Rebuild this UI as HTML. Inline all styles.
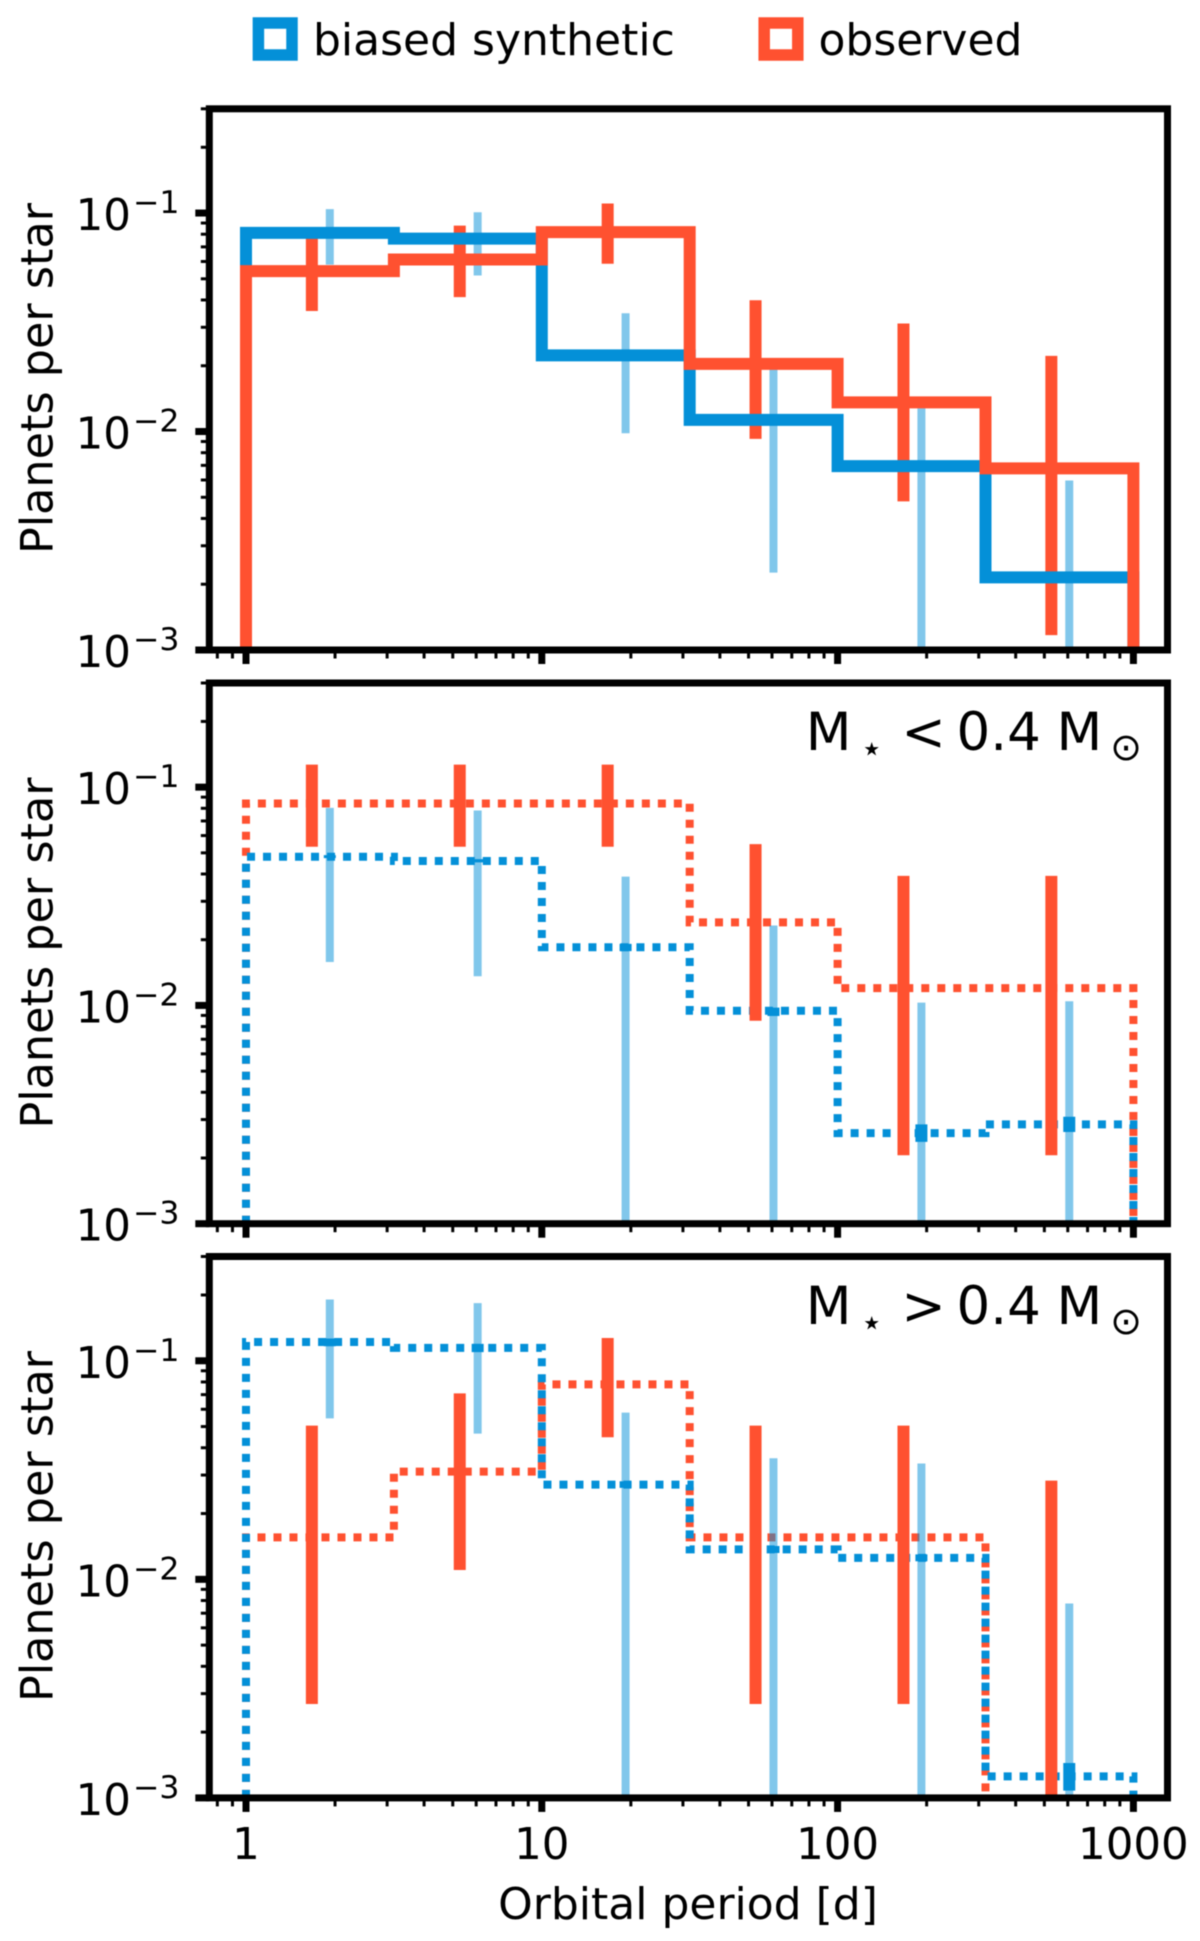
<!DOCTYPE html>
<html lang="en">
<head>
<meta charset="utf-8">
<title>Planets per star vs orbital period</title>
<style>
html,body{margin:0;padding:0;background:#fff;}
svg{display:block;filter:blur(0.5px);}
text{font-family:"DejaVu Sans","Liberation Sans",sans-serif;fill:#000;}
</style>
</head>
<body>
<svg id="chart" xmlns="http://www.w3.org/2000/svg" width="1200" height="1941" viewBox="0 0 1200 1941">
  <rect x="0" y="0" width="1200" height="1941" fill="#ffffff"/>
  <defs>
    <clipPath id="clip-0"><rect x="209.3" y="108.8" width="958.2" height="541.2"/></clipPath>
    <clipPath id="clip-1"><rect x="209.3" y="683" width="958.2" height="540.7"/></clipPath>
    <clipPath id="clip-2"><rect x="209.3" y="1256.5" width="958.2" height="541.4"/></clipPath>
  </defs>

  <g>
    <rect x="258.4" y="23" width="33.6" height="32" fill="none" stroke="#0490d8" stroke-width="11.5"/>
    <text x="313" y="55" font-size="44">biased synthetic</text>
    <rect x="764.2" y="23" width="33.6" height="32" fill="none" stroke="#ff5130" stroke-width="11.5"/>
    <text x="818.5" y="55" font-size="44">observed</text>
  </g>

  <g id="panels"></g>

  <text transform="translate(52.4 378.5) rotate(-90)" text-anchor="middle" font-size="44.5">Planets per star</text>
  <text transform="translate(52.4 953) rotate(-90)" text-anchor="middle" font-size="44.5">Planets per star</text>
  <text transform="translate(52.4 1526.5) rotate(-90)" text-anchor="middle" font-size="44.5">Planets per star</text>
  <text x="688" y="1919" text-anchor="middle" font-size="44">Orbital period [d]</text>

  <g>
    <text x="805.8" y="750" font-size="53">M</text>
    <text x="871.7" y="761" font-size="37" text-anchor="middle">⋆</text>
    <text x="901.4" y="750" font-size="53">&lt;</text>
    <text x="956.5" y="750" font-size="53">0.4</text>
    <text x="1056.5" y="750" font-size="53">M</text>
    <text x="1126" y="760" font-size="38" text-anchor="middle">⊙</text>
  </g>
  <g>
    <text x="805.8" y="1324" font-size="53">M</text>
    <text x="871.7" y="1335" font-size="37" text-anchor="middle">⋆</text>
    <text x="901.4" y="1324" font-size="53">&gt;</text>
    <text x="956.5" y="1324" font-size="53">0.4</text>
    <text x="1056.5" y="1324" font-size="53">M</text>
    <text x="1126" y="1334" font-size="38" text-anchor="middle">⊙</text>
  </g>
</svg>
<script>
// ---- shared categories and ticks ----
const binEdges = [1, 3.162, 10, 31.62, 100, 316.2, 1000];
const observedErrPeriods = [1.67, 5.28, 16.7, 52.8, 167, 528];
const syntheticErrPeriods = [1.92, 6.07, 19.2, 60.7, 192, 607];
const xTickValues = [1, 10, 100, 1000];
const xTickLabels = ['1', '10', '100', '1000'];
const xMinorTickValues = [0.8, 0.9, 2, 3, 4, 5, 6, 7, 8, 9, 20, 30, 40, 50, 60, 70, 80, 90, 200, 300, 400, 500, 600, 700, 800, 900];
const yTickValues = [0.1, 0.01, 0.001];
const yTickExponents = ['−1', '−2', '−3'];
const yMinorTickValues = [0.002, 0.003, 0.004, 0.005, 0.006, 0.007, 0.008, 0.009, 0.02, 0.03, 0.04, 0.05, 0.06, 0.07, 0.08, 0.09, 0.2, 0.3];

// ---- panel 1: all stars ----
const allSynthetic = [0.0811, 0.0764, 0.0223, 0.01131, 0.00694, 0.00215];
const allObserved = [0.0542, 0.0613, 0.0818, 0.0204, 0.0136, 0.00678];
const allSyntheticLow = [0.0581, 0.0518, 0.00982, 0.00226, 0.0001, 0.0001];
const allSyntheticHigh = [0.1042, 0.1009, 0.0348, 0.0195, 0.0128, 0.00597];
const allObservedLow = [0.0356, 0.0412, 0.0586, 0.00925, 0.00479, 0.00117];
const allObservedHigh = [0.0825, 0.0876, 0.1106, 0.0399, 0.0312, 0.0222];

// ---- panel 2: M* < 0.4 Msun ----
const lowSynthetic = [0.048, 0.0459, 0.01846, 0.00945, 0.0026, 0.00285];
const lowObserved = [0.0841, 0.0841, 0.0841, 0.024, 0.012, 0.012];
const lowSyntheticLow = [0.0158, 0.0136, 0.0001, 0.0001, 0.0001, 0.0001];
const lowSyntheticHigh = [0.0804, 0.0782, 0.0389, 0.02323, 0.0103, 0.01045];
const lowObservedLow = [0.0533, 0.0533, 0.0533, 0.00851, 0.00206, 0.00206];
const lowObservedHigh = [0.1268, 0.1268, 0.1268, 0.0548, 0.0392, 0.0392];
const lowTightLow = [0.0473, 0.0452, 0.01774, 0.00894, 0.00237, 0.00263];
const lowTightHigh = [0.0488, 0.0468, 0.01914, 0.00977, 0.00285, 0.00309];

// ---- panel 3: M* > 0.4 Msun ----
const highSynthetic = [0.1219, 0.1146, 0.02713, 0.01371, 0.01254, 0.001254];
const highObserved = [0.01556, 0.0311, 0.078, 0.01556, 0.01556, 0.0005];
const highSyntheticLow = [0.0545, 0.0464, 0.0001, 0.0001, 0.0001, 0.0001];
const highSyntheticHigh = [0.1906, 0.1836, 0.0579, 0.0358, 0.0339, 0.00775];
const highObservedLow = [0.00269, 0.01104, 0.0447, 0.00269, 0.00269, 0.0001];
const highObservedHigh = [0.0505, 0.0709, 0.1271, 0.0505, 0.0505, 0.0283];
const highTightLow = [0.1165, 0.1095, 0.0262, 0.0132, 0.0121, 0.00108];
const highTightHigh = [0.1265, 0.1195, 0.0281, 0.0142, 0.013, 0.001444];

const SVG_NS = 'http://www.w3.org/2000/svg';
const BLUE = '#0490d8';
const RED = '#ff5130';
const AXIS_LEFT = 209.3;
const AXIS_RIGHT = 1167.5;
const X_ORIGIN = 246;
const X_DECADE = 295.8;

function xScale(period) {
  return X_ORIGIN + Math.log10(period) * X_DECADE;
}
function makeYScale(top, bottom) {
  const decade = (bottom - top) / Math.log10(0.3 / 0.001);
  return function (value) {
    return bottom - (Math.log10(value) + 3) * decade;
  };
}
function addLine(parent, x1, y1, x2, y2, color, width) {
  const el = document.createElementNS(SVG_NS, 'line');
  el.setAttribute('x1', x1);
  el.setAttribute('y1', y1);
  el.setAttribute('x2', x2);
  el.setAttribute('y2', y2);
  el.setAttribute('stroke', color);
  el.setAttribute('stroke-width', width);
  parent.appendChild(el);
  return el;
}
function addGroup(parent, clipId) {
  const g = document.createElementNS(SVG_NS, 'g');
  if (clipId) g.setAttribute('clip-path', 'url(#' + clipId + ')');
  parent.appendChild(g);
  return g;
}
function drawStep(parent, values, color, y, width, dashed) {
  let d = 'M' + xScale(binEdges[0]) + ' ' + y(0.001);
  values.forEach(function (v, i) {
    d += ' V' + y(v) + ' H' + xScale(binEdges[i + 1]);
  });
  d += ' V' + y(0.001);
  const el = document.createElementNS(SVG_NS, 'path');
  el.setAttribute('d', d);
  el.setAttribute('fill', 'none');
  el.setAttribute('stroke', color);
  el.setAttribute('stroke-width', width);
  el.setAttribute('stroke-linejoin', 'miter');
  if (dashed) el.setAttribute('stroke-dasharray', '8 8');
  parent.appendChild(el);
  return el;
}
function drawErrors(parent, periods, lows, highs, color, width, opacity, y, name) {
  periods.forEach(function (p, i) {
    const px = xScale(p);
    const el = addLine(parent, px, y(lows[i]), px, y(highs[i]), color, width);
    if (opacity < 1) el.setAttribute('opacity', opacity);
    
    
  });
}

const panelLayouts = [
  {name: 'all', top: 108.8, bottom: 650, clip: 'clip-0', dashed: false},
  {name: 'low-mass', top: 683, bottom: 1223.7, clip: 'clip-1', dashed: true},
  {name: 'high-mass', top: 1256.5, bottom: 1797.9, clip: 'clip-2', dashed: true}
];
const panelSeries = [
  [allSynthetic, allObserved, allSyntheticLow, allSyntheticHigh, allObservedLow, allObservedHigh, null, null],
  [lowSynthetic, lowObserved, lowSyntheticLow, lowSyntheticHigh, lowObservedLow, lowObservedHigh, lowTightLow, lowTightHigh],
  [highSynthetic, highObserved, highSyntheticLow, highSyntheticHigh, highObservedLow, highObservedHigh, highTightLow, highTightHigh]
];

const panelsRoot = document.getElementById('panels');
panelLayouts.forEach(function (layout, index) {
  const series = panelSeries[index];
  const y = makeYScale(layout.top, layout.bottom);
  const panel = addGroup(panelsRoot);
  
  
  const plot = addGroup(panel, layout.clip);
  
  

  let synthLine, obsLine;
  if (!layout.dashed) {
    drawErrors(plot, syntheticErrPeriods, series[2], series[3], BLUE, 8, 0.5, y, 'synthetic-error-bar');
    drawErrors(plot, observedErrPeriods, series[4], series[5], RED, 12, 1, y, 'observed-error-bar');
    synthLine = drawStep(plot, series[0], BLUE, y, 12, false);
    obsLine = drawStep(plot, series[1], RED, y, 12, false);
  } else {
    obsLine = drawStep(plot, series[1], RED, y, 8, true);
    drawErrors(plot, syntheticErrPeriods, series[2], series[3], BLUE, 8, 0.5, y, 'synthetic-error-bar');
    synthLine = drawStep(plot, series[0], BLUE, y, 8, true);
    drawErrors(plot, syntheticErrPeriods, series[6], series[7], BLUE, 12, 1, y, 'synthetic-tight-error-bar');
    drawErrors(plot, observedErrPeriods, series[4], series[5], RED, 12, 1, y, 'observed-error-bar');
  }
  
  
  
  

  const axes = addGroup(panel);
  
  

  xMinorTickValues.forEach(function (v) {
    const tick = addLine(axes, xScale(v), layout.bottom, xScale(v), layout.bottom + 8.5, '#000', 3);
    
    
  });
  xTickValues.forEach(function (v, i) {
    const tick = addLine(axes, xScale(v), layout.bottom, xScale(v), layout.bottom + 14, '#000', 7);
    
    
    if (index === 2) {
      const label = document.createElementNS(SVG_NS, 'text');
      label.setAttribute('x', xScale(v));
      label.setAttribute('y', 1859);
      label.setAttribute('text-anchor', 'middle');
      label.setAttribute('font-size', '43.5');
      
      
      label.textContent = xTickLabels[i];
      axes.appendChild(label);
    }
  });
  yMinorTickValues.forEach(function (v) {
    const tick = addLine(axes, AXIS_LEFT - 8.5, y(v), AXIS_LEFT, y(v), '#000', 3);
    
    
  });
  yTickValues.forEach(function (v, i) {
    const tick = addLine(axes, AXIS_LEFT - 14, y(v), AXIS_LEFT, y(v), '#000', 7);
    
    

    const base = document.createElementNS(SVG_NS, 'text');
    base.setAttribute('x', 75.6);
    base.setAttribute('y', y(v) + 17);
    base.setAttribute('font-size', '43.5');
    
    
    base.textContent = '10';
    axes.appendChild(base);

    const exponent = document.createElementNS(SVG_NS, 'text');
    exponent.setAttribute('x', 133);
    exponent.setAttribute('y', y(v));
    exponent.setAttribute('font-size', '31.5');
    
    
    exponent.textContent = yTickExponents[i];
    axes.appendChild(exponent);
  });

  const frame = document.createElementNS(SVG_NS, 'rect');
  frame.setAttribute('x', AXIS_LEFT);
  frame.setAttribute('y', layout.top);
  frame.setAttribute('width', AXIS_RIGHT - AXIS_LEFT);
  frame.setAttribute('height', layout.bottom - layout.top);
  frame.setAttribute('fill', 'none');
  frame.setAttribute('stroke', '#000');
  frame.setAttribute('stroke-width', 7);
  
  
  axes.appendChild(frame);
});
</script>
</body>
</html>
